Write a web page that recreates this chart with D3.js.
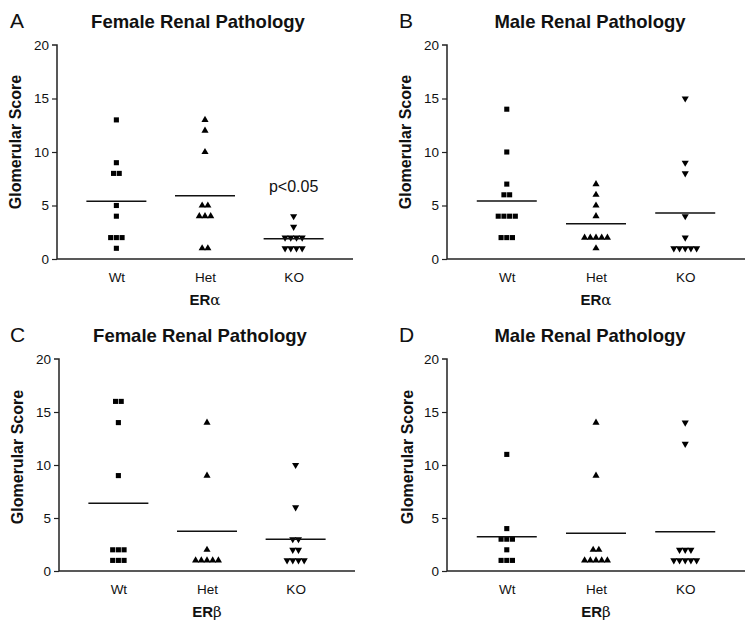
<!DOCTYPE html>
<html><head><meta charset="utf-8">
<script src="https://cdn.jsdelivr.net/npm/d3@7"></script>
<style>body{margin:0;background:#fff}svg{display:block;font-family:"Liberation Sans",Arial,sans-serif}</style>
</head><body>
<script>
const categories = ["Wt", "Het", "KO"];
const yTicks = [0, 5, 10, 15, 20];
// Panel A: Female, ERα
const aWt  = [13, 9, 8, 8, 5, 4, 2, 2, 2, 1];
const aHet = [13, 12, 10, 5, 5, 4, 4, 4, 1, 1];
const aKO  = [4, 3, 2, 2, 2, 2, 1, 1, 1, 1];
// Panel B: Male, ERα
const bWt  = [14, 10, 7, 6, 6, 4, 4, 4, 4, 2, 2, 2];
const bHet = [7, 6, 5, 4, 2, 2, 2, 2, 2, 1];
const bKO  = [15, 9, 8, 4, 2, 1, 1, 1, 1, 1];
// Panel C: Female, ERβ
const cWt  = [16, 16, 14, 9, 2, 2, 2, 1, 1, 1];
const cHet = [14, 9, 2, 1, 1, 1, 1, 1];
const cKO  = [10, 6, 3, 3, 2, 2, 1, 1, 1, 1];
// Panel D: Male, ERβ
const dWt  = [11, 4, 3, 3, 3, 2, 1, 1, 1];
const dHet = [14, 9, 2, 2, 1, 1, 1, 1, 1];
const dKO  = [14, 12, 2, 2, 2, 1, 1, 1, 1, 1];

const W = 751, H = 627;
const svg = d3.select("body").append("svg").attr("width", W).attr("height", H);

const panels = [
  {letter:"A", title:"Female Renal Pathology", gene:"α", data:[aWt,aHet,aKO], x0:57, x1:353, y0:259, y1:45, tx:198, ty:28, lx:10, ylx:15, yly:142, note:"p<0.05"},
  {letter:"B", title:"Male Renal Pathology", gene:"α", data:[bWt,bHet,bKO], x0:447, x1:745, y0:259, y1:45, tx:590, ty:28, lx:399, ylx:405, yly:142},
  {letter:"C", title:"Female Renal Pathology", gene:"β", data:[cWt,cHet,cKO], x0:59, x1:355, y0:571, y1:359, tx:200, ty:342, lx:10, ylx:17, yly:457},
  {letter:"D", title:"Male Renal Pathology", gene:"β", data:[dWt,dHet,dKO], x0:447, x1:745, y0:571, y1:359, tx:590, ty:342, lx:399, ylx:407, yly:457}
];
const symbols = [d3.symbolSquare, d3.symbolTriangle, d3.symbolTriangle];
const symSize = [26, 22, 22];
const spacing = 5.7;

panels.forEach(p => {
  const g = svg.append("g");
  const x = d3.scalePoint().domain(categories).range([p.x0, p.x1]).padding(0.67);
  const y = d3.scaleLinear().domain([0, 20]).range([p.y0, p.y1]);

  // Y axis
  const yAxis = d3.axisLeft(y).tickValues(yTicks).tickSize(5).tickPadding(3);
  const ga = g.append("g").attr("transform", `translate(${p.x0},0)`).call(yAxis);
  ga.select(".domain").attr("d", `M-5,${p.y1}H0V${p.y0}`).attr("stroke", "#222").attr("stroke-width", 1.5);
  ga.selectAll(".tick line").attr("stroke", "#222").attr("stroke-width", 1.2);
  ga.selectAll(".tick text").attr("font-size", 13.5).attr("fill", "#111").attr("font-family", "Liberation Sans, Arial, sans-serif");
  ga.selectAll(".tick").filter(d => d === 20).select("line").remove();

  // X axis
  const xAxis = d3.axisBottom(x).tickSize(0).tickPadding(13);
  const gx = g.append("g").attr("transform", `translate(0,${p.y0})`).call(xAxis);
  gx.select(".domain").attr("d", `M${p.x0},0H${p.x1}`).attr("stroke", "#222").attr("stroke-width", 1.7);
  gx.selectAll(".tick text").attr("font-size", 13.5).attr("fill", "#111").attr("font-family", "Liberation Sans, Arial, sans-serif");

  // gene label
  const gt = g.append("text").attr("x", x("Het")).attr("y", p.y0 + 46).attr("text-anchor", "middle")
    .attr("font-size", 15).attr("fill", "#111");
  gt.append("tspan").attr("font-weight", "bold").text("ER");
  gt.append("tspan").attr("font-family", "DejaVu Serif, serif").attr("font-size", 15).text(p.gene);

  // Y label
  g.append("text").attr("transform", `translate(${p.ylx},${p.yly}) rotate(-90)`)
    .attr("text-anchor", "middle").attr("dominant-baseline", "central")
    .attr("font-size", 16).attr("font-weight", "bold").attr("fill", "#111").text("Glomerular Score");

  // Title and letter
  g.append("text").attr("x", p.tx).attr("y", p.ty).attr("text-anchor", "middle")
    .attr("font-size", 18.5).attr("font-weight", "bold").attr("fill", "#111").text(p.title);
  g.append("text").attr("x", p.lx).attr("y", p.ty).attr("font-size", 21).attr("fill", "#111").text(p.letter);

  // Points and means
  p.data.forEach((vals, ci) => {
    const cat = categories[ci];
    const cx = x(cat);
    const groups = d3.groups(vals, v => v);
    const pts = [];
    groups.forEach(([v, arr]) => {
      const n = arr.length;
      arr.forEach((_, i) => pts.push({v, dx: (i - (n - 1) / 2) * spacing}));
    });
    const sym = d3.symbol().type(symbols[ci]).size(symSize[ci]);
    g.selectAll(null).data(pts).join("path")
      .attr("d", sym)
      .attr("transform", d => `translate(${cx + d.dx},${y(d.v)})` + (ci === 2 ? " rotate(180)" : ""))
      .attr("fill", "#000");
    const m = d3.mean(vals);
    g.append("line").attr("x1", cx - 30).attr("x2", cx + 30).attr("y1", y(m)).attr("y2", y(m))
      .attr("stroke", "#111").attr("stroke-width", 1.5);
  });

  if (p.note) {
    g.append("text").attr("x", x("KO")).attr("y", y(6.3)).attr("text-anchor", "middle")
      .attr("font-size", 16).attr("fill", "#111").text(p.note);
  }
});
</script>
</body></html>
